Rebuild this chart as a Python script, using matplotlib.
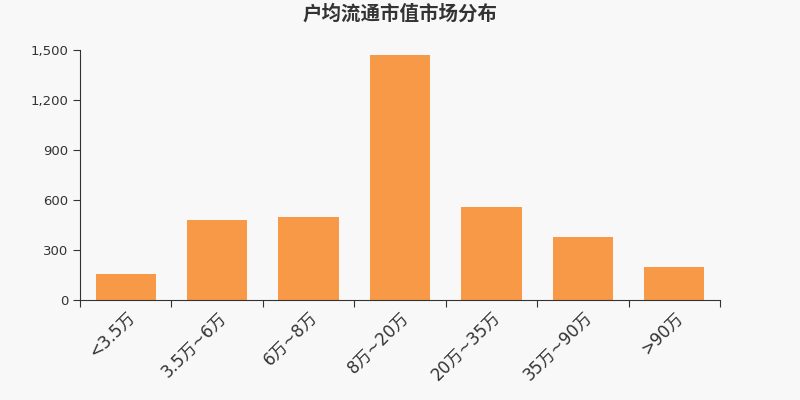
import matplotlib
matplotlib.use('Agg')
import matplotlib.pyplot as plt
import numpy as np
from matplotlib.ticker import FuncFormatter

plt.rcParams['font.family'] = ['DejaVu Sans', 'Noto Sans CJK SC']

# 户均流通市值分布
categories = ['<3.5万', '3.5万~6万', '6万~8万', '8万~20万', '20万~35万', '35万~90万', '>90万']
counts = [154, 478, 498, 1470, 558, 378, 198]

bg = '#f8f8f8'
fig = plt.figure(figsize=(8, 4), dpi=100, facecolor=bg)
ax = fig.add_axes([0.1, 0.25, 0.8, 0.625], facecolor=bg)

x = np.arange(len(categories))
ax.bar(x, counts, width=0.66, color='#f79947', zorder=2)

ax.set_xlim(-0.5, len(categories) - 0.5)
ax.set_ylim(0, 1500)
ax.set_yticks([0, 300, 600, 900, 1200, 1500])
ax.yaxis.set_major_formatter(FuncFormatter(lambda v, p: f'{int(v):,}'))

# ticks sit between the categories, labels at the bar centres
ax.set_xticks(np.arange(-0.5, len(categories)), minor=False)
ax.set_xticklabels([])
ax.set_xticks(x, minor=True)
ax.set_xticklabels(categories, minor=True, rotation=45, ha='right',
                   rotation_mode='anchor', fontsize=12, color='#333333')
ax.tick_params(axis='x', which='minor', length=0, pad=6)
ax.tick_params(axis='x', which='major', length=5, color='#333333')
ax.tick_params(axis='y', length=5, color='#333333', labelsize=9.5, labelcolor='#333333')

for s in ['top', 'right']:
    ax.spines[s].set_visible(False)
for s in ['left', 'bottom']:
    ax.spines[s].set_color('#333333')

fig.text(0.5, 0.965, '户均流通市值市场分布', ha='center', va='center',
         fontsize=14, fontweight='bold', color='#333333',
         family=['Noto Sans CJK SC', 'DejaVu Sans'])

fig.savefig('out.png', dpi=100, facecolor=bg)
